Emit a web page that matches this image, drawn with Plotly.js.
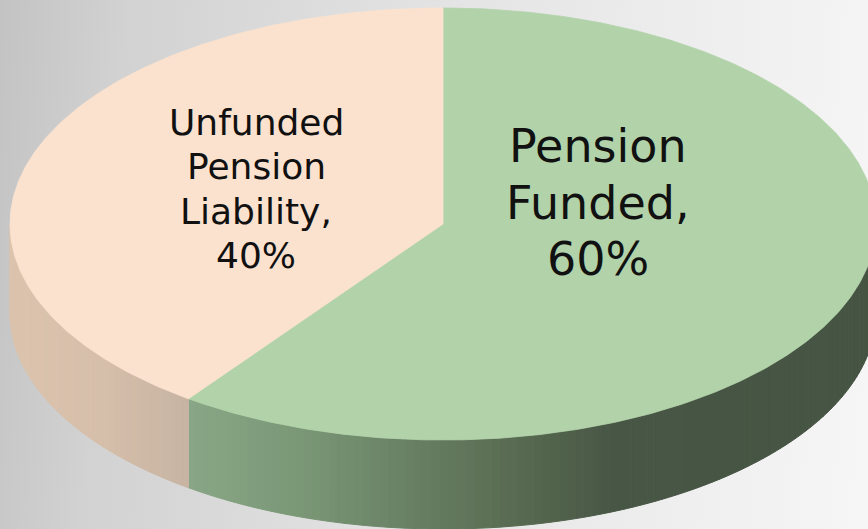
<!DOCTYPE html>
<html>
<head>
<meta charset="utf-8">
<script src="https://cdn.plot.ly/plotly-3.0.1.min.js"></script>
<style>
  html, body { margin: 0; padding: 0; }
  #chart {
    width: 868px; height: 529px;
    background: linear-gradient(95deg, #c3c3c3 0%, #d2d2d2 14%, #e4e4e4 50%, #efefef 80%, #f6f6f6 100%);
  }
</style>
</head>
<body>
<div id="chart"></div>
<script>
// ---- data ----
const categories = ["Pension Funded", "Unfunded Pension Liability"];
const values = [60, 40];
const topColors = ["#b2d3aa", "#fbe2ce"];

// ---- layout constants (pixel geometry of the tilted pie) ----
const W = 868, H = 529;
const cx = 443, cy = 224, rx = 433, ry = 216, depth = 89;
const sideStops = [
  [[195, "#88a685"], [300, "#7a9776"], [400, "#6a8266"], [530, "#56684f"], [610, "#485745"], [900, "#465443"]],
  [[0, "#dcc4ae"], [100, "#d6bfaa"], [195, "#c6b3a2"]]
];
const labelPos = [
  {x: 598, y: 146, size: 46, step: 56.5},
  {x: 256, y: 122, size: 36, step: 44.5}
];

function hex2rgb(h) { return [1,3,5].map(i => parseInt(h.slice(i, i + 2), 16)); }
function colorAt(stops, x) {
  if (x <= stops[0][0]) return stops[0][1];
  for (let i = 1; i < stops.length; i++) {
    if (x <= stops[i][0]) {
      const t = (x - stops[i-1][0]) / (stops[i][0] - stops[i-1][0]);
      const a = hex2rgb(stops[i-1][1]), b = hex2rgb(stops[i][1]);
      const c = a.map((v, k) => Math.round(v + (b[k] - v) * t));
      return `rgb(${c[0]},${c[1]},${c[2]})`;
    }
  }
  return stops[stops.length - 1][1];
}
const px = th => cx + rx * Math.sin(th);
const py = (th, d) => cy - ry * Math.cos(th) + (d || 0);

const total = values.reduce((a, b) => a + b, 0);
const sideTraces = [], topTraces = [];
let acc = 0;
values.forEach((v, i) => {
  const a0 = acc / total * 2 * Math.PI;
  const a1 = (acc + v) / total * 2 * Math.PI;
  acc += v;
  // top face
  const tx = [cx], ty = [cy];
  const n = Math.max(8, Math.ceil((a1 - a0) / 0.01));
  for (let k = 0; k <= n; k++) {
    const th = a0 + (a1 - a0) * k / n;
    tx.push(px(th)); ty.push(py(th));
  }
  tx.push(cx); ty.push(cy);
  topTraces.push({
    type: "scatter", mode: "lines", x: tx, y: ty, fill: "toself",
    fillcolor: topColors[i], line: {color: topColors[i], width: 0.8},
    hoverinfo: "skip", showlegend: false, name: categories[i]
  });
  // visible side (front half: pi/2 .. 3pi/2)
  const s = Math.max(a0, Math.PI / 2), e = Math.min(a1, 3 * Math.PI / 2);
  if (e > s) {
    const m = Math.ceil((e - s) / 0.02);
    for (let k = 0; k < m; k++) {
      const t0 = s + (e - s) * k / m, t1 = s + (e - s) * (k + 1) / m;
      const sx = [], sy = [];
      const sub = 3;
      for (let j = 0; j <= sub; j++) { const t = t0 + (t1 - t0) * j / sub; sx.push(px(t)); sy.push(py(t)); }
      for (let j = sub; j >= 0; j--) { const t = t0 + (t1 - t0) * j / sub; sx.push(px(t)); sy.push(py(t, depth)); }
      sx.push(sx[0]); sy.push(sy[0]);
      const col = colorAt(sideStops[i], (px(t0) + px(t1)) / 2);
      sideTraces.push({
        type: "scatter", mode: "lines", x: sx, y: sy, fill: "toself",
        fillcolor: col, line: {color: col, width: 1},
        hoverinfo: "skip", showlegend: false
      });
    }
  }
});

// labels: one line per word of the category, then the percentage
const annotations = [];
categories.forEach((c, i) => {
  const words = c.split(" ");
  words[words.length - 1] += ",";
  const lines = words.concat([Math.round(values[i] / total * 100) + "%"]);
  const p = labelPos[i];
  lines.forEach((ln, k) => {
    annotations.push({
      x: p.x, y: p.y + k * p.step, xref: "x", yref: "y",
      text: ln, showarrow: false, xanchor: "center", yanchor: "middle",
      font: {family: "DejaVu Sans, Verdana, sans-serif", size: p.size, color: "#111111"}
    });
  });
});

const layout = {
  width: W, height: H,
  margin: {l: 0, r: 0, t: 0, b: 0, pad: 0},
  paper_bgcolor: "rgba(0,0,0,0)", plot_bgcolor: "rgba(0,0,0,0)",
  xaxis: {range: [0, W], visible: false, fixedrange: true},
  yaxis: {range: [H, 0], visible: false, fixedrange: true},
  showlegend: false,
  annotations: annotations
};
Plotly.newPlot("chart", sideTraces.concat(topTraces), layout, {staticPlot: true, displayModeBar: false});
</script>
</body>
</html>
